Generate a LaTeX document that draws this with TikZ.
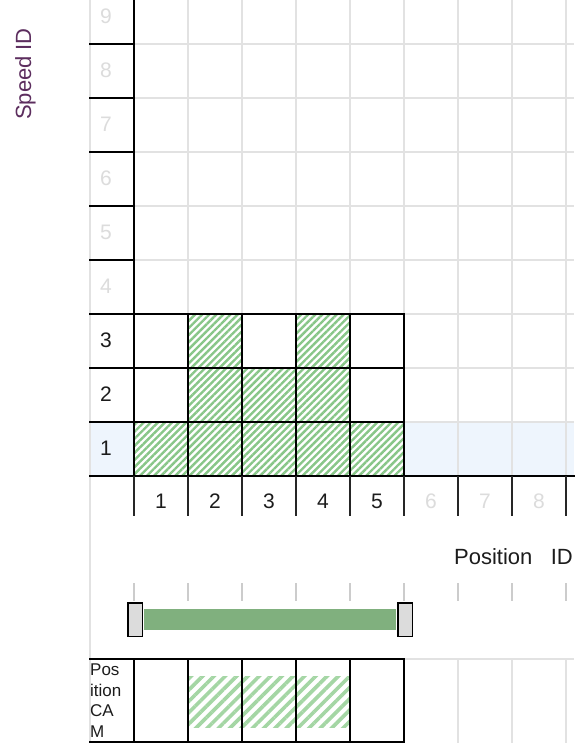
\documentclass[tikz,border=0pt]{standalone}
\usepackage{fontspec}
\setmainfont{Liberation Sans}
\usepackage{xcolor}
\usepackage{tikz}
\usetikzlibrary{patterns.meta}
\definecolor{gridgray}{HTML}{E2E2E2}
\definecolor{fadenum}{HTML}{DCDCDC}
\definecolor{numdark}{HTML}{1C1C1C}
\definecolor{rowhl}{HTML}{EEF5FD}
\definecolor{hatchgreen}{HTML}{88C688}
\definecolor{camgreen}{HTML}{A4D6A4}
\definecolor{bargreen}{HTML}{80B07E}
\definecolor{knobgray}{HTML}{DCDCDC}
\definecolor{speedcol}{HTML}{5C2D5E}
\tikzset{
  hardline/.style={draw=black, line width=1.8pt, line cap=rect},
  softline/.style={draw=gridgray, line width=1.8pt},
  tickline/.style={draw=black!85, line width=1.8pt},
  slidetick/.style={draw=black!20, line width=1.6pt},
  hatch/.style={pattern={Lines[angle=45,distance=5pt,line width=2.4pt]}, pattern color=hatchgreen},
  camhatch/.style={pattern={Lines[angle=45,distance=8pt,line width=3.6pt]}, pattern color=camgreen},
  idnum/.style={font=\fontsize{21}{25}\selectfont, text=numdark, inner sep=0pt},
  fadeid/.style={idnum, text=fadenum},
  axislabel/.style={font=\fontsize{22}{26}\selectfont, inner sep=0pt},
  camtext/.style={font=\fontsize{17}{20.5}\selectfont, inner sep=0pt, align=left},
  knob/.style={draw=black, fill=knobgray, line width=1.5pt, minimum width=14.5pt, minimum height=33.5pt, inner sep=0pt},
  every picture/.style={x=1pt, y=-1pt}
}

\begin{document}
\begin{tikzpicture}
  \useasboundingbox (0,0) rectangle (574,743);
  \fill[white] (0,0) rectangle (574,743);
  % highlighted speed row
  \fill[rowhl] (90,422) rectangle (574,476);
  % light grid
  \draw[softline] (90,0) -- (90,743);
  \foreach \x in {188,242,...,566} \draw[softline] (\x,0) -- (\x,476);
  \foreach \y in {44,98,...,314} \draw[softline] (134,\y) -- (574,\y);
  \foreach \y in {368,422} \draw[softline] (404,\y) -- (574,\y);
  \draw[softline] (404,659) -- (574,659);
  \foreach \x in {458,512,566} \draw[softline] (\x,659) -- (\x,743);
  % hatched cells
  \foreach \c/\r in {1/1,2/1,3/1,4/1,5/1,2/2,3/2,4/2,2/3,4/3}
    \path[fill=white, postaction={hatch}] ({134+54*(\c-1)},{476-54*\r}) rectangle +(54,54);
  \path[camhatch] (189,676) rectangle (350,727);
  % black cells
  \foreach \y in {44,98,...,260} \draw[hardline] (90,\y) -- (134,\y);
  \foreach \y in {314,368,422} \draw[hardline] (90,\y) -- (404,\y);
  \draw[hardline] (90,476) -- (574,476);
  \draw[hardline] (134,0) -- (134,476);
  \foreach \x in {188,242,...,404} \draw[hardline] (\x,314) -- (\x,476);
  \foreach \x in {134,188,...,566} \draw[tickline] (\x,476) -- (\x,516);
  % position cam row
  \draw[hardline] (90,659) -- (404,659);
  \draw[hardline] (90,742) -- (404,742);
  \foreach \x in {134,188,...,404} \draw[hardline] (\x,659) -- (\x,742);
  % speed numbers
  \foreach \r in {1,2,3} \node[idnum, anchor=west] (row\r) at (100,{476-54*\r+26}) {\r};
  \foreach \r in {4,...,9} \node[fadeid, anchor=west] (row\r) at (100,{476-54*\r+26}) {\r};
  % position numbers
  \foreach \c in {1,...,5} \node[idnum] (col\c) at ({161+54*(\c-1)},501) {\c};
  \foreach \c in {6,7,8} \node[fadeid] (col\c) at ({161+54*(\c-1)},501) {\c};
  % axis titles
  \node[axislabel, rotate=90, anchor=base, text=speedcol] (speed) at (31,74) {Speed ID};
  \node[axislabel, anchor=base east, text=numdark] (pos) at (573,564) {Position\ \ \ ID};
  % range slider
  \foreach \x in {134,188,...,566} \draw[slidetick] (\x,583) -- (\x,601);
  \node[knob] (lo) at (135,619.5) {};
  \node[knob] (hi) at (405,619.5) {};
  \draw[bargreen, line width=21pt, shorten <=0.75pt, shorten >=0.75pt] (lo) -- (hi);
  \node[camtext, anchor=north west, text=numdark] (cam) at (90,664) {Pos\\ition\\CA\\M};
\end{tikzpicture}
\end{document}
